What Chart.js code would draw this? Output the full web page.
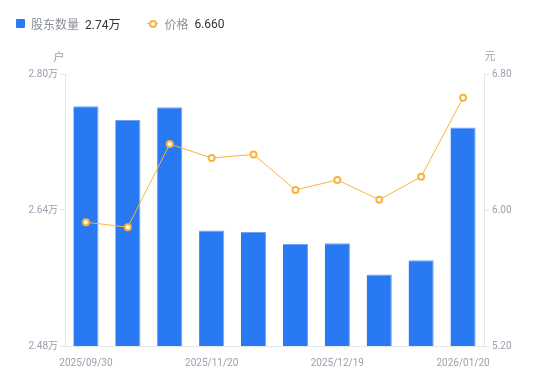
<!DOCTYPE html>
<html>
<head>
<meta charset="utf-8">
<script src="https://cdn.jsdelivr.net/npm/chart.js@4"></script>
<style>
  html, body { margin:0; padding:0; background:#fff; }
  #wrap { position:relative; width:550px; height:381px; }
  #legend { position:absolute; left:16px; top:15px; font:12px Roboto, "Noto Sans CJK SC", sans-serif; display:flex; align-items:center; white-space:nowrap; }
  .sq { display:inline-block; width:9px; height:9px; background:#2979f2; border-radius:1px; margin-right:6px; }
  .nm { color:#8a8f99; margin-right:6px; }
  .vl { color:#333; }
  .ln { display:inline-block; position:relative; width:11px; height:9px; margin-left:27px; margin-right:6px; }
  .ln:before { content:""; position:absolute; left:0; right:0; top:4px; height:1px; background:#f9b43c; }
  .ln:after { content:""; position:absolute; left:2px; top:1px; width:4px; height:4px; border:2px solid #f9b43c; border-radius:50%; background:#fff; box-sizing:content-box; }
  canvas { position:absolute; left:0; top:0; }
</style>
</head>
<body>
<div id="wrap">
  <canvas id="c" width="550" height="381"></canvas>
  <div id="legend"></div>
</div>
<script>
const categories = ["2025/09/30","2025/10/20","2025/10/31","2025/11/20","2025/11/28","2025/12/10","2025/12/19","2025/12/31","2026/01/09","2026/01/20"];
const holders = [2.762, 2.746, 2.761, 2.616, 2.614, 2.600, 2.601, 2.564, 2.581, 2.737];
const prices = [5.928, 5.899, 6.388, 6.306, 6.327, 6.118, 6.177, 6.060, 6.196, 6.660];
const leftTicks = [2.48, 2.64, 2.80];
const rightTicks = [5.20, 6.00, 6.80];
const seriesNames = ["股东数量", "价格"];
const unitLeft = "户", unitRight = "元";

const lg = document.getElementById('legend');
lg.innerHTML = '<span class="sq"></span><span class="nm">' + seriesNames[0] + '</span><span class="vl">' + holders[holders.length-1].toFixed(2) + '万</span>' +
  '<span class="ln"></span><span class="nm">' + seriesNames[1] + '</span><span class="vl">' + prices[prices.length-1].toFixed(3) + '</span>';

const FONT = 'Roboto, "Noto Sans CJK SC", sans-serif';
const unitPlugin = {
  id: 'units',
  afterDraw(chart) {
    const ctx = chart.ctx, a = chart.chartArea;
    ctx.save();
    ctx.font = '11px ' + FONT;
    ctx.fillStyle = '#9aa0ab';
    ctx.textBaseline = 'middle';
    ctx.textAlign = 'center';
    ctx.fillText(unitLeft, a.left - 6, a.top - 16);
    ctx.fillText(unitRight, a.right + 6, a.top - 17);
    ctx.restore();
  }
};

new Chart(document.getElementById('c'), {
  data: {
    labels: categories,
    datasets: [
      { type:'line', label: seriesNames[1], data: prices, yAxisID:'y1', order:0,
        borderColor:'#f9b43c', borderWidth:1, tension:0,
        pointRadius:3, pointBorderWidth:2, pointBackgroundColor:'#fff', pointBorderColor:'#f9b43c' },
      { type:'bar', label: seriesNames[0], data: holders, yAxisID:'y', order:1,
        backgroundColor:'#2979f2', borderColor:'#6ea5f7', borderWidth:{top:1,right:1,left:0,bottom:0},
        categoryPercentage:0.6, barPercentage:1 }
    ]
  },
  options: {
    responsive:false, animation:false,
    layout:{ padding:{ top:74, bottom:9, left:0, right:0 } },
    plugins:{ legend:{display:false}, tooltip:{enabled:false} },
    scales:{
      x:{
        grid:{ display:false },
        border:{ display:true, color:'#e3e5e8' },
        ticks:{ autoSkip:false, maxRotation:0, padding:3, color:'#9aa0ab', font:{size:10, family:FONT},
          callback:(v,i)=> i%3===0 ? categories[i] : '' }
      },
      y:{
        position:'left', min:leftTicks[0], max:leftTicks[2],
        afterFit(s){ s.width = 65; },
        afterBuildTicks(s){ s.ticks = leftTicks.map(v=>({value:v})); },
        grid:{ drawOnChartArea:false, tickLength:5, color:'#e3e5e8' },
        border:{ color:'#e3e5e8' },
        ticks:{ color:'#9aa0ab', padding:2, font:{size:10, family:FONT}, callback:v=> v.toFixed(2)+'万' }
      },
      y1:{
        position:'right', min:rightTicks[0], max:rightTicks[2],
        afterFit(s){ s.width = 66; },
        afterBuildTicks(s){ s.ticks = rightTicks.map(v=>({value:v})); },
        grid:{ drawOnChartArea:false, tickLength:5, color:'#e3e5e8' },
        border:{ color:'#e3e5e8' },
        ticks:{ color:'#9aa0ab', padding:3, font:{size:10, family:FONT}, callback:v=> v.toFixed(2) }
      }
    }
  },
  plugins:[unitPlugin]
});
</script>
</body>
</html>
